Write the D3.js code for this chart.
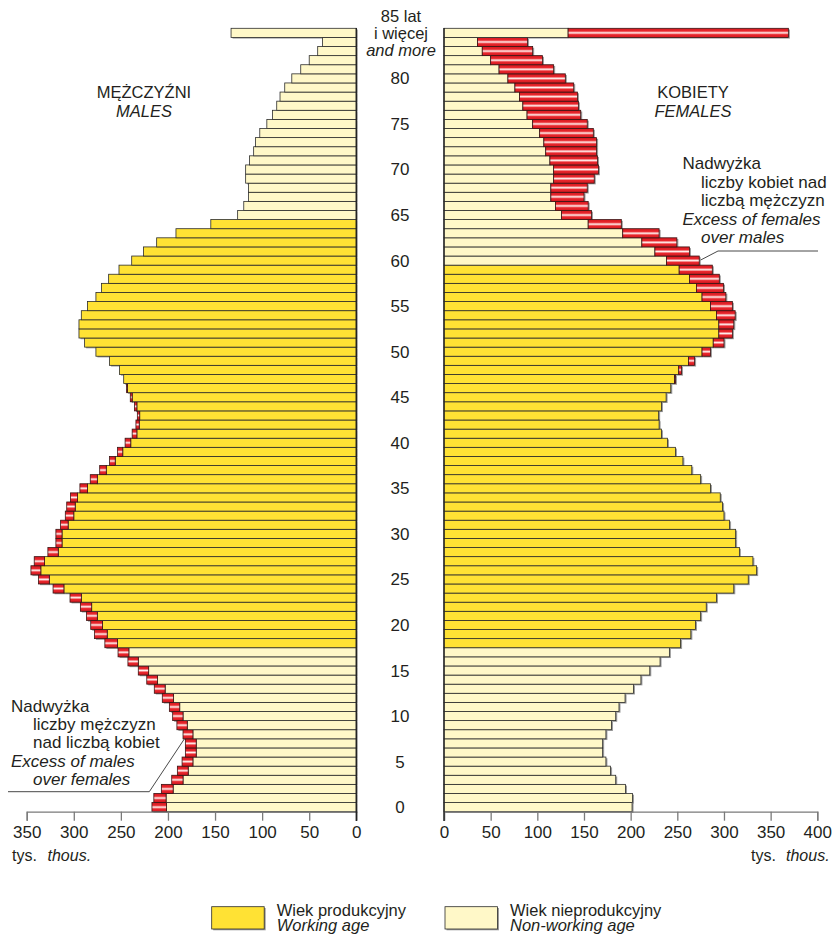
<!DOCTYPE html>
<html>
<head>
<meta charset="utf-8">
<script src="https://cdn.jsdelivr.net/npm/d3@7"></script>
<style>
  body { margin: 0; background: #fff; }
  svg text { font-family: "Liberation Sans", Arial, sans-serif; fill: #231f20; }
</style>
</head>
<body>
<svg id="chart" width="834" height="935"></svg>
<script>
// single years of age 0..85 (85 = "85 and more"), thousands
const ages = d3.range(0, 86)

const males = [
  217, 215, 207, 196, 190, 185, 181.5, 181.5, 184, 190.5,
  195, 198.5, 206, 214.5, 222.5, 231.5, 242.5, 253, 267, 278,
  282, 286.5, 293, 304, 322, 337.5, 345.5, 342, 327.5, 319,
  319, 314, 309, 307.5, 303.5, 293.5, 282.5, 272.5, 262, 253.5,
  245.5, 238, 234, 232.5, 235.5, 240, 244, 247, 251.5, 262,
  276.5, 288.5, 294.5, 294.5, 292, 285.5, 276.5, 270.5, 263, 252,
  238.5, 226, 212, 191.5, 154.5, 126, 119.5, 114.5, 114.5, 117.5,
  117.5, 113.5, 109, 107, 102.5, 95, 89, 84.5, 81, 76,
  68.5, 59, 50, 41, 36, 133
]

const females = [
  201.5, 202, 194.5, 184, 178.5, 173.5, 170, 170, 173.5, 179.5,
  184, 187.5, 194, 203, 211, 220.5, 231.5, 241.5, 253.5, 264.5,
  269.5, 275, 281, 292, 310.5, 326, 335, 331, 316.5, 312.5,
  312.5, 306, 300, 298.5, 296, 285.5, 275, 265.5, 256, 248,
  239.5, 233, 230.5, 230, 233, 238, 243, 248, 254.5, 268.5,
  285.5, 300, 309, 310.5, 312, 309, 302, 299.5, 295, 287.5,
  273.5, 263, 249.5, 230.5, 190, 158, 154.5, 150, 153.5, 161,
  165.5, 164.5, 163.5, 163.5, 160, 153.5, 146.5, 144, 143, 139,
  130, 117.5, 105.5, 95, 89.5, 369
]

const maleWorkingAge = [18, 64]
const femaleWorkingAge = [18, 59]

const ageTicks = d3.range(0, 85, 5)
const maleTicks = d3.range(0, 351, 50)
const femaleTicks = d3.range(0, 401, 50)

const colors = {
  working: "#ffe234",
  nonWorking: "#fff8c8",
  outline: "#2b2b2b",
  shadow: "#9b9b9b",
  axis: "#7a7a7a"
}

const svg = d3.select("#chart")

const defs = svg.append("defs")
const grad = defs.append("linearGradient")
  .attr("id", "excess")
  .attr("x1", 0).attr("y1", 0)
  .attr("x2", 0).attr("y2", 1)
grad.selectAll("stop")
  .data([[0, "#d51920"], [0.3, "#e8262c"], [0.5, "#fff0ee"], [0.7, "#e8262c"], [1, "#d51920"]])
  .join("stop")
  .attr("offset", d => d[0])
  .attr("stop-color", d => d[1])

let y = d3.scaleBand()
  .domain(ages.slice().reverse())
  .range([28.3, 811.7])
  .padding(0)

let xL = d3.scaleLinear().domain([0, 350]).range([356.3, 26.7])
let xR = d3.scaleLinear().domain([0, 400]).range([444, 817.3])

let rows = ages.map((a, i) => ({ age: a, m: males[i], f: females[i] }))

let inRange = (a, r) => a >= r[0] && a <= r[1]

// common part of each bar + red excess on the larger side
let leftSegs = []
let rightSegs = []
rows.forEach(d => {
  let common = Math.min(d.m, d.f)
  leftSegs.push({ age: d.age, from: 0, to: common, fill: inRange(d.age, maleWorkingAge) ? colors.working : colors.nonWorking, red: false })
  if (d.m > d.f) leftSegs.push({ age: d.age, from: d.f, to: d.m, fill: "url(#excess)", red: true })
  rightSegs.push({ age: d.age, from: 0, to: common, fill: inRange(d.age, femaleWorkingAge) ? colors.working : colors.nonWorking, red: false })
  if (d.f > d.m) rightSegs.push({ age: d.age, from: d.m, to: d.f, fill: "url(#excess)", red: true })
})

const drawSide = (g, segs, x) => {
  let rx = d => Math.min(x(d.from), x(d.to))
  let rw = d => Math.abs(x(d.to) - x(d.from))
  g.append("g").selectAll("rect")
    .data(segs)
    .join("rect")
    .attr("x", d => rx(d) + 1.5)
    .attr("y", d => y(d.age) + 1.2)
    .attr("width", rw)
    .attr("height", y.bandwidth())
    .attr("fill", colors.shadow)
  g.append("g").selectAll("rect")
    .data(segs)
    .join("rect")
    .attr("x", rx)
    .attr("y", d => y(d.age))
    .attr("width", rw)
    .attr("height", y.bandwidth())
    .attr("fill", d => d.fill)
    .attr("stroke", d => d.red ? "#3a1414" : colors.outline)
    .attr("stroke-width", 0.8)
}

drawSide(svg.append("g"), leftSegs, xL)
drawSide(svg.append("g"), rightSegs, xR)

// bottom axes
const drawAxis = (x, ticks) => {
  let g = svg.append("g").attr("transform", "translate(0,811.7)")
  g.call(d3.axisBottom(x).tickValues(ticks).tickSize(9).tickPadding(5).tickFormat(d3.format("d")))
  g.select(".domain").attr("stroke", colors.axis).attr("stroke-width", 1.3)
  g.selectAll(".tick line").attr("stroke", colors.axis).attr("stroke-width", 1.3)
  g.selectAll(".tick text")
    .attr("font-size", 17)
    .attr("font-family", "Liberation Sans, Arial, sans-serif")
    .attr("fill", "#231f20")
}
drawAxis(xL, maleTicks)
drawAxis(xR, femaleTicks)

// vertical baselines
svg.selectAll("line.base")
  .data([xL(0), xR(0)])
  .join("line")
  .attr("class", "base")
  .attr("x1", d => d).attr("x2", d => d)
  .attr("y1", 28).attr("y2", 821)
  .attr("stroke", "#222")
  .attr("stroke-width", 1.4)

// age labels
svg.append("g").selectAll("text")
  .data(ageTicks)
  .join("text")
  .attr("x", 400)
  .attr("y", d => y(d) + y.bandwidth() / 2 + 6)
  .attr("text-anchor", "middle")
  .attr("font-size", 17)
  .text(d => d)

const addText = (x, yy, str, opts = {}) => {
  svg.append("text")
    .attr("x", x)
    .attr("y", yy)
    .attr("font-size", opts.size || 17)
    .attr("font-style", opts.italic ? "italic" : "normal")
    .attr("text-anchor", opts.anchor || "start")
    .text(str)
}

addText(401, 21.7, "85 lat", { anchor: "middle", size: 16.5 })
addText(401, 38.5, "i więcej", { anchor: "middle", size: 16.5 })
addText(401, 55.5, "and more", { anchor: "middle", size: 16.5, italic: true })

addText(144, 98, "MĘŻCZYŹNI", { anchor: "middle", size: 16.5 })
addText(144, 117, "MALES", { anchor: "middle", size: 16.5, italic: true })
addText(693, 98, "KOBIETY", { anchor: "middle", size: 16.5 })
addText(693, 117, "FEMALES", { anchor: "middle", size: 16.5, italic: true })

// annotations
addText(682.5, 169.3, "Nadwyżka")
addText(701, 187.5, "liczby kobiet nad")
addText(701, 205.5, "liczbą mężczyzn")
addText(682.5, 224.5, "Excess of females", { italic: true })
addText(701, 242.5, "over males", { italic: true })

addText(11, 711.7, "Nadwyżka")
addText(33, 730, "liczby mężczyzn")
addText(33, 748, "nad liczbą kobiet")
addText(11, 767, "Excess of males", { italic: true })
addText(33, 785, "over females", { italic: true })

svg.selectAll("polyline.leader")
  .data([[[818, 251], [718, 251], [700.7, 260]], [[8, 791.7], [149.3, 791.7], [184.3, 739]]])
  .join("polyline")
  .attr("class", "leader")
  .attr("points", d => d.join(" "))
  .attr("fill", "none")
  .attr("stroke", "#333")
  .attr("stroke-width", 0.9)

// units
addText(12, 861, "tys.", { size: 16 })
addText(47.5, 861, "thous.", { size: 16, italic: true })
addText(751, 861, "tys.", { size: 16 })
addText(786, 861, "thous.", { size: 16, italic: true })

// legend
const legendItems = [
  { x: 211.7, fill: colors.working, pl: "Wiek produkcyjny", en: "Working age" },
  { x: 445, fill: colors.nonWorking, pl: "Wiek nieprodukcyjny", en: "Non-working age" }
]
let lg = svg.append("g")
lg.selectAll("rect.sh")
  .data(legendItems)
  .join("rect")
  .attr("class", "sh")
  .attr("x", d => d.x + 1.5).attr("y", 908)
  .attr("width", 52.5).attr("height", 22.3)
  .attr("fill", colors.shadow)
lg.selectAll("rect.box")
  .data(legendItems)
  .join("rect")
  .attr("class", "box")
  .attr("x", d => d.x).attr("y", 906.7)
  .attr("width", 52.5).attr("height", 22.3)
  .attr("fill", d => d.fill)
  .attr("stroke", colors.outline)
  .attr("stroke-width", 0.8)
legendItems.forEach(d => {
  addText(d.x + 65, 915.5, d.pl, { size: 16.5 })
  addText(d.x + 65, 931, d.en, { size: 16.5, italic: true })
})
</script>
</body>
</html>
